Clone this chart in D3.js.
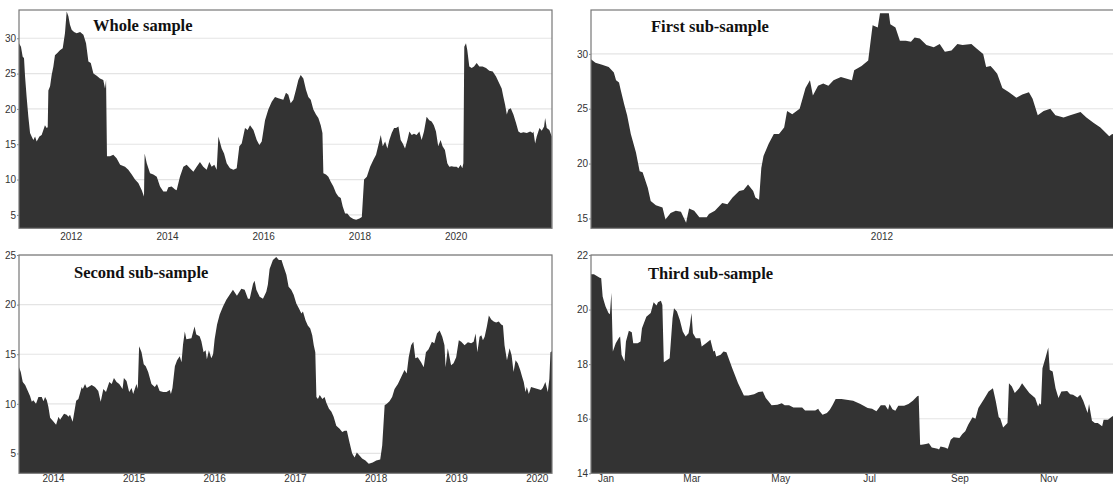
<!DOCTYPE html>
<html>
<head>
<meta charset="utf-8">
<script src="https://cdn.jsdelivr.net/npm/d3@7"></script>
<style>
  html, body { margin: 0; padding: 0; background: #fff; }
  svg { display: block; }
  .tick text { font-family: "Liberation Sans", Arial, sans-serif; font-size: 10px; fill: #333; }
  .title { font-family: "Liberation Serif", "Times New Roman", serif; font-weight: bold; font-size: 16.5px; fill: #111; }
</style>
</head>
<body>
<svg id="chart" width="1113" height="485"></svg>
<script>
// ---- Whole sample -------------------------------------------------------
const wholeDates = [
  "2010-12-04","2010-12-19","2011-01-01","2011-01-11","2011-01-19","2011-01-31","2011-02-13","2011-02-26",
  "2011-03-10","2011-03-23","2011-04-05","2011-04-17","2011-05-08","2011-05-25","2011-06-07","2011-06-19",
  "2011-07-02","2011-07-10","2011-07-15","2011-07-28","2011-08-09","2011-08-22","2011-09-03","2011-09-21",
  "2011-10-11","2011-11-01","2011-11-18","2011-12-01","2011-12-14","2011-12-26","2012-01-08","2012-01-26",
  "2012-02-15","2012-03-12","2012-04-06","2012-04-26","2012-05-14","2012-06-01","2012-06-21","2012-07-16",
  "2012-08-10","2012-09-04","2012-09-17","2012-09-25","2012-10-02","2012-10-25","2012-11-19","2012-12-14",
  "2013-01-10","2013-02-16","2013-03-13","2013-04-08","2013-05-03","2013-05-28","2013-06-23","2013-07-10",
  "2013-07-15","2013-07-31","2013-08-25","2013-09-19","2013-10-15","2013-11-09","2013-12-04","2013-12-29",
  "2014-01-11","2014-02-05","2014-03-03","2014-03-15","2014-04-09","2014-05-05","2014-05-30","2014-06-24",
  "2014-07-20","2014-08-14","2014-09-08","2014-10-03","2014-10-29","2014-11-18","2014-12-06","2014-12-26",
  "2015-01-13","2015-01-26","2015-02-20","2015-03-10","2015-03-30","2015-04-24","2015-05-20","2015-06-14",
  "2015-07-04","2015-07-22","2015-08-16","2015-09-05","2015-09-23","2015-10-19","2015-11-13","2015-12-03",
  "2015-12-21","2016-01-15","2016-02-09","2016-03-06","2016-03-31","2016-04-25","2016-06-02","2016-06-22",
  "2016-07-10","2016-07-28","2016-08-17","2016-09-06","2016-09-24","2016-10-12","2016-11-01","2016-11-21",
  "2016-12-09","2016-12-27","2017-01-16","2017-02-05","2017-02-23","2017-03-13","2017-03-26","2017-04-02",
  "2017-04-22","2017-05-10","2017-05-28","2017-06-17","2017-07-07","2017-07-25","2017-08-12","2017-08-27",
  "2017-09-14","2017-10-01","2017-10-22","2017-11-16","2017-12-07","2018-01-01","2018-01-19","2018-02-05",
  "2018-02-26","2018-03-23","2018-04-17","2018-05-07","2018-05-25","2018-06-12","2018-06-27","2018-07-15",
  "2018-08-01","2018-08-16","2018-09-03","2018-09-21","2018-10-06","2018-10-24","2018-11-10","2018-11-26",
  "2018-12-13","2018-12-31","2019-01-15","2019-02-02","2019-02-19","2019-03-11","2019-04-01","2019-04-18",
  "2019-05-06","2019-05-26","2019-06-15","2019-07-03","2019-07-20","2019-08-05","2019-08-22","2019-09-09",
  "2019-09-24","2019-10-12","2019-10-30","2019-11-14","2019-12-02","2019-12-19","2020-01-09","2020-01-22",
  "2020-02-08","2020-02-21","2020-02-29","2020-03-07","2020-03-20","2020-03-30","2020-04-14","2020-05-02",
  "2020-05-20","2020-06-09","2020-06-29","2020-07-24","2020-08-19","2020-09-13","2020-10-09","2020-11-03",
  "2020-11-28","2020-12-16","2020-12-29","2021-01-11","2021-01-24","2021-02-05","2021-02-23","2021-03-15",
  "2021-04-04","2021-04-22","2021-05-10","2021-05-30","2021-06-25","2021-07-20","2021-08-09","2021-08-14",
  "2021-08-27","2021-09-08","2021-09-29","2021-10-16","2021-11-03","2021-11-11","2021-11-23","2021-12-13",
  "2021-12-31"
];
const wholeValues = [
  29.3,28.8,27.4,27.2,24.6,21.7,18.9,16.6, 16.1,15.6,16.1,15.4,16.1,16.3,17.0,17.7,
  17.3,17.4,22.6,23.2,24.8,26.0,27.6,27.9, 28.3,28.6,30.7,33.8,33.1,31.9,31.2,30.9,
  30.7,30.9,30.5,29.3,26.7,26.5,25.0,24.7, 24.3,24.1,22.9,24.1,13.3,13.3,13.5,13.0,
  12.1,11.8,11.4,10.7,10.0,9.5,8.5,7.6, 13.7,12.3,10.9,10.7,10.4,9.0,8.3,8.3,
  8.9,9.0,8.6,8.5,10.4,11.8,12.1,11.6, 11.1,11.8,12.5,11.8,11.4,12.5,11.8,12.1,
  11.4,16.1,14.4,13.7,12.3,11.6,11.4,11.6, 14.7,15.1,17.3,17.0,17.7,17.0,15.6,14.9,
  15.4,18.4,19.9,21.0,21.7,21.5,21.3,22.3, 22.0,20.8,21.3,22.7,24.1,24.8,24.3,22.7,
  21.7,21.3,19.9,19.2,18.7,17.7,16.6,10.9, 10.7,10.4,9.7,9.0,8.1,7.6,7.4,6.2,
  5.2,5.2,4.7,4.4,4.3,4.5,4.7,10.0, 10.4,11.8,12.8,13.5,14.9,16.3,14.7,15.4,
  14.4,15.6,16.6,17.3,17.3,17.5,15.6,15.1, 14.4,15.6,16.8,16.3,16.5,16.3,16.8,15.6,
  16.8,18.9,18.4,18.2,17.7,16.8,14.7,15.6, 14.7,14.2,12.3,11.8,11.9,11.8,11.8,11.6,
  12.1,11.6,12.3,28.8,29.3,28.3,26.0,25.8, 26.0,26.5,26.0,26.0,25.8,25.4,25.3,24.6,
  23.6,22.9,21.7,20.6,19.2,19.9,20.1,19.2, 18.0,16.8,16.6,16.7,16.6,16.8,16.6,16.8,
  15.1,16.1,17.3,16.9,17.5,18.7,17.3,17.0, 16.1
];

// ---- First sub-sample ---------------------------------------------------
const firstDates = [
  "2010-12-03","2010-12-09","2010-12-18","2010-12-27","2011-01-03","2011-01-06","2011-01-10","2011-01-12",
  "2011-01-17","2011-01-21","2011-01-26","2011-02-02","2011-02-07","2011-02-11","2011-02-18","2011-02-22",
  "2011-03-01","2011-03-10","2011-03-14","2011-03-21","2011-03-28","2011-04-04","2011-04-11","2011-04-15",
  "2011-04-22","2011-04-29","2011-05-09","2011-05-12","2011-05-20","2011-05-30","2011-06-06","2011-06-13",
  "2011-06-22","2011-06-28","2011-07-04","2011-07-11","2011-07-14","2011-07-19","2011-07-22","2011-07-25",
  "2011-08-01","2011-08-08","2011-08-15","2011-08-22","2011-08-26","2011-09-02","2011-09-12","2011-09-15",
  "2011-09-20","2011-09-26","2011-09-30","2011-10-07","2011-10-14","2011-10-21","2011-10-28","2011-11-07",
  "2011-11-22","2011-11-25","2011-12-05","2011-12-14","2011-12-20","2011-12-27","2011-12-30","2012-01-11",
  "2012-01-13","2012-01-20","2012-01-26","2012-02-03","2012-02-10","2012-02-15","2012-02-22","2012-03-02",
  "2012-03-12","2012-03-20","2012-03-27","2012-04-05","2012-04-13","2012-04-20","2012-05-02","2012-05-09",
  "2012-05-18","2012-05-22","2012-05-28","2012-06-01","2012-06-06","2012-06-13","2012-06-22","2012-07-02",
  "2012-07-10","2012-07-19","2012-07-24","2012-07-31","2012-08-08","2012-08-17","2012-08-24","2012-09-04",
  "2012-09-13","2012-09-27","2012-10-05","2012-10-15","2012-10-24","2012-11-05","2012-11-09","2012-11-25"
];
const firstValues = [
  29.5,29.2,29.0,28.8,28.3,27.6,27.4,26.8, 25.4,24.4,22.7,21.0,19.3,19.2,17.8,16.6,
  16.2,16.0,14.9,15.5,15.7,15.6,14.6,15.9, 15.7,15.1,15.1,15.4,15.7,16.4,16.3,16.9,
  17.5,17.6,18.1,17.5,16.9,16.7,19.6,20.7, 21.8,22.7,22.7,23.3,24.8,24.5,25.0,25.7,
  26.9,27.6,26.2,27.1,27.3,27.1,27.6,27.9, 27.6,28.5,28.9,29.4,32.6,32.4,33.7,33.7,
  32.7,32.4,31.2,31.2,31.1,31.5,31.4,30.8, 30.6,30.9,30.2,30.3,30.9,30.8,30.9,30.5,
  30.0,28.8,28.9,28.6,28.2,26.9,26.5,26.0, 26.3,26.5,25.9,24.4,24.8,25.0,24.4,24.2,
  24.4,24.7,24.2,23.7,23.3,22.5,22.7,22.4
];

// ---- Second sub-sample --------------------------------------------------
const secondDates = [
  "2013-07-31","2013-08-08","2013-08-17","2013-08-28","2013-09-07","2013-09-19","2013-09-27","2013-10-04",
  "2013-10-16","2013-10-27","2013-11-11","2013-11-19","2013-11-26","2013-12-04","2013-12-11","2013-12-19",
  "2013-12-31","2014-01-15","2014-01-26","2014-02-02","2014-02-20","2014-03-04","2014-03-12","2014-03-19",
  "2014-03-31","2014-04-16","2014-04-26","2014-05-11","2014-05-16","2014-05-26","2014-06-03","2014-06-25",
  "2014-07-10","2014-07-25","2014-08-05","2014-08-17","2014-08-29","2014-09-13","2014-09-24","2014-10-04",
  "2014-10-16","2014-10-28","2014-11-12","2014-11-18","2014-11-30","2014-12-12","2014-12-23","2014-12-30",
  "2015-01-14","2015-01-20","2015-01-26","2015-02-06","2015-02-16","2015-02-25","2015-03-08","2015-03-23",
  "2015-04-07","2015-04-17","2015-04-29","2015-05-15","2015-05-30","2015-06-14","2015-06-19","2015-06-26",
  "2015-07-07","2015-07-17","2015-07-29","2015-08-06","2015-08-13","2015-08-21","2015-08-28","2015-09-20",
  "2015-10-04","2015-10-12","2015-10-27","2015-11-04","2015-11-14","2015-11-23","2015-11-29","2015-12-08",
  "2015-12-19","2015-12-27","2016-01-03","2016-01-14","2016-01-26","2016-02-10","2016-02-25","2016-03-11",
  "2016-03-26","2016-04-13","2016-05-03","2016-05-18","2016-06-02","2016-06-10","2016-06-25","2016-07-02",
  "2016-07-10","2016-07-25","2016-08-09","2016-08-24","2016-08-31","2016-09-08","2016-09-23","2016-10-08",
  "2016-10-20","2016-11-01","2016-11-08","2016-11-23","2016-12-03","2016-12-15","2016-12-26","2017-01-07",
  "2017-01-19","2017-01-30","2017-02-06","2017-02-18","2017-02-28","2017-03-11","2017-03-20","2017-03-27",
  "2017-04-03","2017-04-08","2017-04-15","2017-04-23","2017-05-05","2017-05-15","2017-05-23","2017-06-04",
  "2017-06-15","2017-06-25","2017-07-07","2017-07-22","2017-08-03","2017-08-14","2017-08-24","2017-09-05",
  "2017-09-17","2017-09-28","2017-10-08","2017-10-20","2017-11-01","2017-11-16","2017-12-01","2017-12-19",
  "2018-01-04","2018-01-22","2018-01-31","2018-02-11","2018-02-21","2018-03-05","2018-03-17","2018-03-28",
  "2018-04-12","2018-04-27","2018-05-12","2018-05-22","2018-05-31","2018-06-11","2018-06-21","2018-06-30",
  "2018-07-11","2018-07-26","2018-08-07","2018-08-17","2018-08-29","2018-09-13","2018-09-24","2018-10-06",
  "2018-10-18","2018-10-30","2018-11-09","2018-11-14","2018-11-24","2018-12-02","2018-12-09","2018-12-20",
  "2019-01-01","2019-01-13","2019-01-24","2019-02-08","2019-02-23","2019-03-10","2019-03-21","2019-03-30",
  "2019-04-07","2019-04-17","2019-04-25","2019-05-02","2019-05-10","2019-05-20","2019-05-29","2019-06-09",
  "2019-06-20","2019-07-01","2019-07-13","2019-07-24","2019-08-01","2019-08-08","2019-08-19","2019-08-31",
  "2019-09-09","2019-09-18","2019-09-27","2019-10-07","2019-10-18","2019-10-27","2019-11-03","2019-11-11",
  "2019-11-17","2019-11-26","2019-12-06","2019-12-21","2020-01-05","2020-01-20","2020-01-28","2020-02-09",
  "2020-02-20","2020-02-27","2020-03-03","2020-03-10"
];
const secondValues = [
  13.7,13.2,12.2,11.9,11.4,10.8,10.2,10.35, 10.0,10.7,10.7,10.25,10.7,10.35,9.7,8.6,
  8.3,7.9,8.7,8.4,9.0,8.9,8.7,8.9, 8.2,10.3,10.5,11.7,11.5,12.0,11.6,11.9,
  11.7,11.3,10.2,11.5,11.2,12.2,12.0,12.6, 12.2,12.0,11.5,12.6,12.3,11.2,11.6,11.0,
  12.0,11.5,15.8,15.2,14.0,13.8,13.2,12.0, 11.7,12.0,11.3,11.2,11.2,11.4,11.0,11.6,
  13.8,14.4,14.8,14.2,16.0,17.3,16.5,16.6, 17.8,17.0,16.8,16.3,15.2,15.4,14.5,15.4,
  14.6,15.0,16.5,18.0,19.0,19.8,20.5,21.0, 21.5,20.9,21.6,21.5,20.6,20.6,22.1,22.4,
  21.5,20.8,20.6,21.3,22.0,23.6,24.5,24.8, 24.5,24.5,24.0,23.0,21.8,21.5,21.0,20.1,
  19.6,19.1,19.3,18.4,17.9,17.6,16.9,15.9, 15.2,10.7,10.5,10.9,10.5,10.7,10.1,9.5,
  9.2,8.7,7.8,7.5,7.15,7.3,7.3,6.1, 5.0,4.6,5.1,4.8,4.5,4.3,3.95,4.1,
  4.3,4.4,5.8,9.85,10.0,10.25,10.7,11.5, 12.0,12.7,13.4,13.05,14.7,15.9,16.25,14.6,
  14.7,14.2,13.7,15.2,15.5,16.25,16.1,17.1, 17.4,16.75,15.9,13.7,15.6,14.7,13.9,14.1,
  14.7,16.4,16.25,15.9,16.2,16.1,16.25,17.1, 15.2,16.75,16.9,16.4,16.75,17.8,18.9,18.5,
  18.3,18.2,18.3,18.0,17.9,15.9,14.4,15.6, 14.9,13.2,14.4,14.1,13.4,12.7,12.2,11.2,
  11.7,11.0,11.7,11.6,11.5,11.4,11.6,12.2, 11.2,12.5,15.2,15.3
];

// ---- Third sub-sample ---------------------------------------------------
const thirdDates = [
  "2020-12-22","2020-12-24","2020-12-28","2020-12-29","2020-12-30","2020-12-31","2021-01-01","2021-01-03",
  "2021-01-04","2021-01-05","2021-01-06","2021-01-08","2021-01-10","2021-01-11","2021-01-12","2021-01-14",
  "2021-01-15","2021-01-17","2021-01-19","2021-01-20","2021-01-23","2021-01-25","2021-01-26","2021-01-29",
  "2021-02-01","2021-02-03","2021-02-05","2021-02-06","2021-02-08","2021-02-09","2021-02-10","2021-02-14",
  "2021-02-16","2021-02-17","2021-02-19","2021-02-21","2021-02-23","2021-02-25","2021-02-27","2021-02-28",
  "2021-03-01","2021-03-02","2021-03-04","2021-03-07","2021-03-08","2021-03-11","2021-03-14","2021-03-16",
  "2021-03-17","2021-03-18","2021-03-21","2021-03-23","2021-03-25","2021-03-29","2021-04-02","2021-04-06",
  "2021-04-09","2021-04-13","2021-04-16","2021-04-19","2021-04-21","2021-04-23","2021-04-25","2021-04-29",
  "2021-05-02","2021-05-04","2021-05-07","2021-05-10","2021-05-12","2021-05-16","2021-05-18","2021-05-23",
  "2021-05-25","2021-05-27","2021-05-28","2021-05-30","2021-06-02","2021-06-04","2021-06-06","2021-06-08",
  "2021-06-12","2021-06-20","2021-06-25","2021-06-30","2021-07-03","2021-07-06","2021-07-09","2021-07-12",
  "2021-07-14","2021-07-15","2021-07-17","2021-07-19","2021-07-21","2021-07-25","2021-07-28","2021-07-31",
  "2021-08-03","2021-08-04","2021-08-05","2021-08-06","2021-08-09","2021-08-11","2021-08-13","2021-08-17",
  "2021-08-18","2021-08-19","2021-08-22","2021-08-24","2021-08-26","2021-08-28","2021-09-01","2021-09-03",
  "2021-09-05","2021-09-07","2021-09-10","2021-09-12","2021-09-14","2021-09-18","2021-09-21","2021-09-24",
  "2021-09-26","2021-09-28","2021-09-29","2021-10-01","2021-10-04","2021-10-05","2021-10-07","2021-10-09",
  "2021-10-12","2021-10-14","2021-10-16","2021-10-19","2021-10-21","2021-10-23","2021-10-25","2021-10-26",
  "2021-10-27","2021-10-28","2021-10-30","2021-11-01","2021-11-02","2021-11-04","2021-11-06","2021-11-08",
  "2021-11-10","2021-11-14","2021-11-16","2021-11-18","2021-11-21","2021-11-23","2021-11-25","2021-11-28",
  "2021-11-29","2021-12-01","2021-12-03","2021-12-05","2021-12-08","2021-12-09","2021-12-12","2021-12-15",
  "2021-12-20","2021-12-23"
];
const thirdValues = [
  21.29,21.29,21.17,21.15,20.48,20.29,20.11,19.87, 19.83,20.62,18.46,18.77,18.95,19.01,18.34,18.10,
  18.83,19.22,19.17,18.77,18.77,18.83,19.32,19.74, 19.87,20.27,20.15,20.27,20.32,20.17,18.07,18.22,
  19.68,20.05,19.93,19.62,19.20,19.01,19.13,19.44, 19.87,19.13,18.95,18.95,18.65,18.77,18.89,18.46,
  18.49,18.28,18.34,18.46,18.44,17.85,17.30,16.85, 16.85,16.90,16.98,17.00,16.76,16.63,16.49,16.51,
  16.57,16.49,16.49,16.41,16.41,16.41,16.30,16.30, 16.30,16.37,16.27,16.15,16.21,16.33,16.51,16.72,
  16.72,16.66,16.54,16.39,16.37,16.27,16.49,16.49, 16.33,16.54,16.35,16.29,16.48,16.48,16.54,16.66,
  16.82,16.84,15.05,15.05,15.07,15.10,14.95,14.90, 14.87,14.98,14.95,14.90,15.23,15.32,15.29,15.44,
  15.54,15.78,16.05,16.00,16.39,16.73,17.00,17.12, 16.63,16.05,16.02,15.68,15.84,17.30,17.18,16.94,
  17.12,17.30,17.15,16.94,16.85,16.76,16.45,16.57, 16.51,17.85,18.22,18.61,17.79,17.73,17.12,16.76,
  17.00,17.02,16.90,16.88,16.78,16.88,16.66,16.21, 16.54,15.93,15.84,15.84,15.72,15.96,15.96,16.09,
  16.05,16.00
];

// ---- Axis ticks ---------------------------------------------------------
const wholeYTicks  = [5, 10, 15, 20, 25, 30];
const firstYTicks  = [15, 20, 25, 30];
const secondYTicks = [5, 10, 15, 20, 25];
const thirdYTicks  = [14, 16, 18, 20, 22];
const wholeXTicks  = ["2012-01-01", "2014-01-01", "2016-01-01", "2018-01-01", "2020-01-01"];
const firstXTicks  = ["2012-01-01"];
const secondXTicks = ["2014-01-01", "2015-01-01", "2016-01-01", "2017-01-01", "2018-01-01", "2019-01-01", "2020-01-01"];
const thirdXTicks  = ["2021-01-01", "2021-03-01", "2021-05-01", "2021-07-01", "2021-09-01", "2021-11-01"];

const parse = d3.timeParse("%Y-%m-%d");
const zip = (dates, values) => dates.map((d, i) => ({ date: parse(d), value: values[i] }));

// Panel geometry and axis ranges
const W = 533, H = 218.3;
const panels = [
  { title: "Whole sample", left: 19, top: 10, tx: 74, ty: 21, pad: 5,
    data: zip(wholeDates, wholeValues), xDom: ["2010-12-04", "2022-01-02"], yDom: [3.1, 34],
    yTicks: wholeYTicks, xTicks: wholeXTicks, fmt: d3.timeFormat("%Y") },
  { title: "First sub-sample", left: 591, top: 10, tx: 60, ty: 21.5, pad: 5,
    data: zip(firstDates, firstValues), xDom: ["2010-12-03", "2012-11-25"], yDom: [14.1, 34],
    yTicks: firstYTicks, xTicks: firstXTicks, fmt: d3.timeFormat("%Y") },
  { title: "Second sub-sample", left: 19, top: 255, tx: 55, ty: 23, pad: 2,
    data: zip(secondDates, secondValues), xDom: ["2013-07-31", "2020-03-10"], yDom: [3, 25],
    yTicks: secondYTicks, xTicks: secondXTicks, fmt: d3.timeFormat("%Y") },
  { title: "Third sub-sample", left: 591, top: 255, tx: 57, ty: 24, pad: 2,
    data: zip(thirdDates, thirdValues), xDom: ["2020-12-22", "2021-12-23"], yDom: [14, 22],
    yTicks: thirdYTicks, xTicks: thirdXTicks, fmt: d3.timeFormat("%b") }
];

const svg = d3.select("#chart");

panels.forEach((p, i) => {
  const g = svg.append("g").attr("transform", `translate(${p.left},${p.top})`);
  const x = d3.scaleTime().domain(p.xDom.map(parse)).range([0, W]);
  const y = d3.scaleLinear().domain(p.yDom).range([H, 0]);

  g.append("clipPath").attr("id", "clip" + i)
    .append("rect").attr("width", W).attr("height", H);

  // horizontal grid
  g.append("g").selectAll("line").data(p.yTicks).join("line")
    .attr("x1", 0).attr("x2", W)
    .attr("y1", d => y(d)).attr("y2", d => y(d))
    .attr("stroke", "#e4e4e4").attr("stroke-width", 1.2);

  // filled series
  const area = d3.area()
    .x(d => x(d.date))
    .y0(H)
    .y1(d => y(d.value));
  g.append("path").datum(p.data)
    .attr("clip-path", `url(#clip${i})`)
    .attr("d", area)
    .attr("fill", "#333333");

  // frame
  g.append("rect").attr("width", W).attr("height", H)
    .attr("fill", "none").attr("stroke", "#777").attr("stroke-width", 1.2);

  // y axis
  const ya = g.append("g")
    .call(d3.axisLeft(y).tickValues(p.yTicks).tickSize(2).tickPadding(1).tickFormat(d3.format("d")));
  ya.select(".domain").remove();
  ya.selectAll(".tick line").attr("stroke", "#888");

  // x axis
  const xa = g.append("g").attr("transform", `translate(0,${H})`)
    .call(d3.axisBottom(x).tickValues(p.xTicks.map(parse)).tickSize(0).tickPadding(p.pad).tickFormat(p.fmt));
  xa.select(".domain").remove();

  // panel title
  g.append("text").attr("class", "title")
    .attr("x", p.tx).attr("y", p.ty)
    .text(p.title);
});
</script>
</body>
</html>
